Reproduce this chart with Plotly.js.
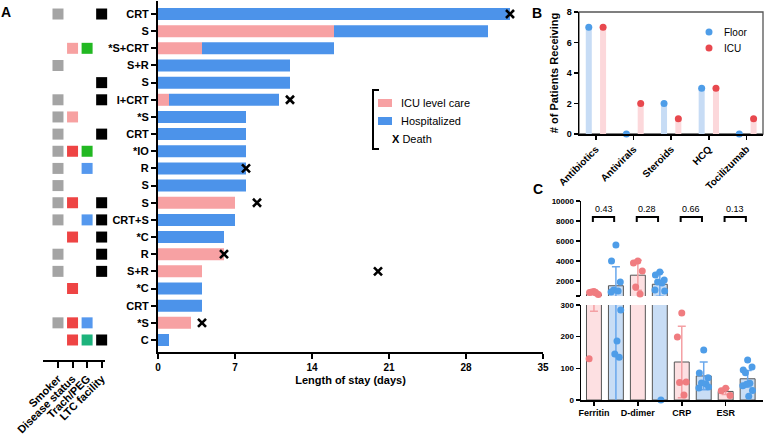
<!DOCTYPE html>
<html><head><meta charset="utf-8">
<script src="https://cdn.plot.ly/plotly-3.0.1.min.js"></script>
<style>html,body{margin:0;padding:0;background:#fff}#chart{width:765px;height:441px}</style>
</head><body><div id="chart"></div>
<script>
// ---------- Panel A data ----------
const stayLabels = ['CRT','S','*S+CRT','S+R','S','I+CRT','*S','CRT','*IO','R','S','S','CRT+S','*C','R','S+R','*C','CRT','*S','C'];
const icuDays  = [0,16,4,0,0,1,0,0,0,0,0,7,0,0,6,4,0,0,3,0];
const hospDays = [32,14,12,12,12,10,8,8,8,8,8,0,7,6,0,0,4,4,0,1];
const deathDay = [32,null,null,null,null,12,null,null,null,8,null,9,null,null,6,20,null,null,4,null];
const stayTicks = [0,7,14,21,28,35];
// matrix (0 = none)
const matrixCols = ['Smoker','Disease status','Trach/PEG','LTC facility'];
const smoker  = [1,0,0,1,0,1,1,1,1,1,1,1,1,0,1,1,0,0,1,0];
const disease = [0,0,1,0,0,0,1,0,2,0,0,2,0,2,0,0,2,0,2,2];
const trach   = [0,0,1,0,0,0,0,0,1,2,0,0,2,0,0,0,0,0,2,3];
const ltc     = [1,0,0,0,1,1,0,1,0,0,0,1,1,1,1,1,0,0,0,1];
// ---------- Panel B data ----------
const drugs = ['Antibiotics','Antivirals','Steroids','HCQ','Tocilizumab'];
const floorCount = [7,0,2,3,0];
const icuCount   = [7,2,1,3,1];
// ---------- Panel C data ----------
const labs = ['Ferritin','D-dimer','CRP','ESR'];
const icuMean   = [690,2580,120,27];
const icuSD     = [410,1500,113,10];
const floorMean = [1525,1675,76,67];
const floorSD   = [1900,1200,44,26];
const icuPts   = [[950,850,650,900,800,130],[4000,3800,3000,1400,700],[275,199,57,55,16],[37,29,14]];
const floorPts = [[5600,4000,1900,1100,1000,900,284,186,145,135],[2900,2600,2100,1900,1800,1100,1000,0],[158,85,70,54,51,38,41],[126,95,104,86,53,45,30,12,50]];
const pVals = ['0.43','0.28','0.66','0.13'];

// ---------- helpers ----------
const W = 765, H = 441;
const PX = p => p / W, PY = p => 1 - p / H;
const FONT = 'Arial, "Liberation Sans", sans-serif';
const rows = stayLabels.map((_, i) => i);
const PINK = '#F7A1A3', BLUE = '#4C93EA';

const traces = [];
// Panel A bars
traces.push({type:'bar', orientation:'h', x:icuDays, y:rows, base:0, width:0.7,
  marker:{color:PINK}, xaxis:'x', yaxis:'y', hoverinfo:'x+y', name:'ICU level care'});
traces.push({type:'bar', orientation:'h', x:hospDays, y:rows, base:icuDays, width:0.7,
  marker:{color:BLUE}, xaxis:'x', yaxis:'y', name:'Hospitalized'});
traces.push({type:'scatter', mode:'markers', x:deathDay, y:rows, xaxis:'x', yaxis:'y', cliponaxis:false,
  marker:{symbol:'x-thin', size:8, color:'#000', line:{width:2.6, color:'#000'}}, name:'Death'});

// Matrix
const matDefs = [
  {vals:smoker,  col:0, colors:{1:'#A4A4A4'}},
  {vals:disease, col:1, colors:{1:'#F7A1A1', 2:'#EE4444'}},
  {vals:trach,   col:2, colors:{1:'#22B822', 2:'#5598EE', 3:'#1DB37C'}},
  {vals:ltc,     col:3, colors:{1:'#000000'}}
];
matDefs.forEach(d => {
  Object.keys(d.colors).forEach(k => {
    const ys = rows.filter(i => d.vals[i] === +k);
    traces.push({type:'scatter', mode:'markers', x:ys.map(() => d.col), y:ys, xaxis:'x2', yaxis:'y2',
      cliponaxis:false, marker:{symbol:'square', size:11, color:d.colors[k]}});
  });
});

// Panel B
const di = drugs.map((_, i) => i);
traces.push({type:'bar', x:di.map(i => i - 0.19), y:floorCount, width:0.16, base:0, xaxis:'x3', yaxis:'y3',
  marker:{color:'#C7DCF5'}});
traces.push({type:'bar', x:di.map(i => i + 0.19), y:icuCount, width:0.16, base:0, xaxis:'x3', yaxis:'y3',
  marker:{color:'#FCD8DB'}});
traces.push({type:'scatter', mode:'markers', x:di.map(i => i - 0.19), y:floorCount, xaxis:'x3', yaxis:'y3',
  cliponaxis:false, marker:{size:7, color:'#4E9DE8'}, name:'Floor'});
traces.push({type:'scatter', mode:'markers', x:di.map(i => i + 0.19), y:icuCount, xaxis:'x3', yaxis:'y3',
  cliponaxis:false, marker:{size:7, color:'#E8484E'}, name:'ICU'});

// Panel C (broken axis: y4 lower 0-300, y5 upper 500-10000)
const li = labs.map((_, i) => i);
const icuX = li.map(i => 2 * i), floorX = li.map(i => 2 * i + 1);
['y4','y5'].forEach(ya => {
  traces.push({type:'bar', x:icuX, y:icuMean, base:0, width:0.68, xaxis:'x4', yaxis:ya,
    marker:{color:'#FDE0E2', line:{color:'#555', width:1}},
    error_y:{type:'data', array:icuSD, arrayminus:icuSD, color:'#F4A0A4', thickness:1.5, width:4}});
  traces.push({type:'bar', x:floorX, y:floorMean, base:0, width:0.68, xaxis:'x4', yaxis:ya,
    marker:{color:'#C8DDF5', line:{color:'#555', width:1}},
    error_y:{type:'data', array:floorSD, arrayminus:floorSD, color:'#6AA8EC', thickness:1.5, width:4}});
});
const jit = [0, -0.2, 0.2, -0.1, 0.1, -0.22, 0.22, 0.05, -0.05, 0.15];
function dots(pts, xs, color) {
  const lo = {x:[], y:[]}, hi = {x:[], y:[]};
  pts.forEach((arr, g) => arr.forEach((v, k) => {
    const t = v >= 500 ? hi : lo;
    if (v >= 500 || v <= 300) { t.x.push(xs[g] + jit[k % jit.length]); t.y.push(v); }
  }));
  traces.push({type:'scatter', mode:'markers', x:lo.x, y:lo.y, xaxis:'x4', yaxis:'y4', cliponaxis:false, marker:{size:7, color}});
  traces.push({type:'scatter', mode:'markers', x:hi.x, y:hi.y, xaxis:'x4', yaxis:'y5', cliponaxis:false, marker:{size:7, color}});
}
dots(icuPts, icuX, '#F07C80');
dots(floorPts, floorX, '#4E9DE8');

// ---------- layout ----------
const axBase = {showgrid:false, zeroline:false, showline:true, linecolor:'#000', ticks:'outside', tickcolor:'#000', fixedrange:true};
const tf = (s, w) => ({family:FONT, size:s, color:'#000', weight:w || 'bold'});

const shapes = [], annotations = [];
// Legend A
shapes.push({type:'path', xref:'paper', yref:'paper',
  path:`M ${PX(379)},${PY(90)} L ${PX(373)},${PY(90)} L ${PX(373)},${PY(149)} L ${PX(379)},${PY(149)}`,
  line:{color:'#000', width:2}});
shapes.push({type:'rect', xref:'paper', yref:'paper', x0:PX(378), x1:PX(392), y0:PY(99), y1:PY(107), fillcolor:PINK, line:{width:0}});
shapes.push({type:'rect', xref:'paper', yref:'paper', x0:PX(378), x1:PX(392), y0:PY(117), y1:PY(125), fillcolor:BLUE, line:{width:0}});
annotations.push({xref:'paper', yref:'paper', x:PX(399), y:PY(103), text:'ICU level care', showarrow:false, xanchor:'left', yanchor:'middle', font:tf(11,'normal')});
annotations.push({xref:'paper', yref:'paper', x:PX(399), y:PY(121), text:'Hospitalized', showarrow:false, xanchor:'left', yanchor:'middle', font:tf(11,'normal')});
annotations.push({xref:'paper', yref:'paper', x:PX(390), y:PY(139), text:'<b>X</b> Death', showarrow:false, xanchor:'left', yanchor:'middle', font:tf(11,'normal')});
// Legend B
shapes.push({type:'circle', xref:'paper', yref:'paper', x0:PX(705.5), x1:PX(712.5), y0:PY(28.5), y1:PY(35.5), fillcolor:'#4E9DE8', line:{width:0}});
shapes.push({type:'circle', xref:'paper', yref:'paper', x0:PX(705.5), x1:PX(712.5), y0:PY(44.5), y1:PY(51.5), fillcolor:'#E8484E', line:{width:0}});
annotations.push({xref:'paper', yref:'paper', x:PX(722), y:PY(32), text:'Floor', showarrow:false, xanchor:'left', yanchor:'middle', font:tf(10,'normal')});
annotations.push({xref:'paper', yref:'paper', x:PX(722), y:PY(48), text:'ICU', showarrow:false, xanchor:'left', yanchor:'middle', font:tf(10,'normal')});
// Panel B frame (top/right)
shapes.push({type:'rect', xref:'paper', yref:'paper', x0:PX(579), x1:PX(763), y0:PY(134), y1:PY(12), line:{color:'#555', width:1.3}, layer:'below'});
// Panel letters
[['A',6,12],['B',537,13],['C',538,189]].forEach(([t,x,y]) =>
  annotations.push({xref:'paper', yref:'paper', x:PX(x), y:PY(y), text:t, showarrow:false, xanchor:'center', yanchor:'middle', font:tf(14)}));
// p-value brackets
pVals.forEach((p, i) => {
  const x0 = 2 * i - 0.05, x1 = 2 * i + 0.92;
  shapes.push({type:'path', xref:'x4', yref:'y5', path:`M ${x0},7900 L ${x0},8400 L ${x1},8400 L ${x1},7900`, line:{color:'#000', width:2}});
  annotations.push({xref:'x4', yref:'y5', x:(x0 + x1) / 2, y:9200, text:p, showarrow:false, xanchor:'center', yanchor:'middle', font:tf(9,'normal')});
});

const layout = {
  width:W, height:H, margin:{l:0,r:0,t:0,b:0}, paper_bgcolor:'#fff', plot_bgcolor:'rgba(0,0,0,0)',
  showlegend:false, barmode:'overlay', font:{family:FONT, color:'#000'},
  xaxis: Object.assign({}, axBase, {domain:[PX(158), PX(543)], range:[0,35], anchor:'y', linewidth:2, tickwidth:2, ticklen:5,
    tickvals:stayTicks, tickfont:tf(10), title:{text:'Length of stay (days)', font:tf(11), standoff:4}}),
  yaxis: Object.assign({}, axBase, {domain:[PY(352), PY(1)], range:[19.70,-0.758], anchor:'x', linewidth:2, tickwidth:2, ticklen:5,
    tickvals:rows, ticktext:stayLabels, tickfont:tf(11)}),
  xaxis2: Object.assign({}, axBase, {domain:[PX(43), PX(105)], range:[-1.03,3.23], anchor:'y2', linewidth:2, tickwidth:2, ticklen:6,
    tickvals:[0,1,2,3], ticktext:matrixCols, tickangle:-45, tickfont:tf(11)}),
  yaxis2: {domain:[PY(360), PY(1)], range:[20.166,-0.758], anchor:'x2', visible:false, fixedrange:true},
  xaxis3: Object.assign({}, axBase, {domain:[PX(579), PX(763)], range:[-0.45,4.44], anchor:'y3', linewidth:1.5, tickwidth:1.5, ticklen:4,
    tickvals:di, ticktext:drugs, tickangle:-45, tickfont:tf(10)}),
  yaxis3: Object.assign({}, axBase, {domain:[PY(134), PY(12)], range:[0,8], anchor:'x3', linewidth:1.5, tickwidth:1.5, ticklen:4,
    tickvals:[0,2,4,6,8], tickfont:tf(9), title:{text:'# of Patients Receiving', font:tf(11), standoff:6}}),
  xaxis4: Object.assign({}, axBase, {domain:[PX(581), PX(763)], range:[-0.59,7.7], anchor:'y4', linewidth:1.5, tickwidth:1.5, ticklen:4,
    tickvals:icuX, ticktext:labs, tickfont:tf(9)}),
  yaxis4: Object.assign({}, axBase, {domain:[PY(400), PY(305)], range:[0,300], anchor:'x4', linewidth:1.5, tickwidth:1.5, ticklen:4,
    tickvals:[0,100,200,300], tickfont:tf(8)}),
  yaxis5: Object.assign({}, axBase, {domain:[PY(296), PY(201)], range:[500,10000], anchor:'x4', linewidth:1.5, tickwidth:1.5, ticklen:4,
    tickvals:[500,2000,4000,6000,8000,10000], ticktext:['','2000','4000','6000','8000','10000'], tickfont:tf(8)}),
  shapes, annotations
};
Plotly.newPlot('chart', traces, layout, {displayModeBar:false, staticPlot:true});
</script></body></html>
